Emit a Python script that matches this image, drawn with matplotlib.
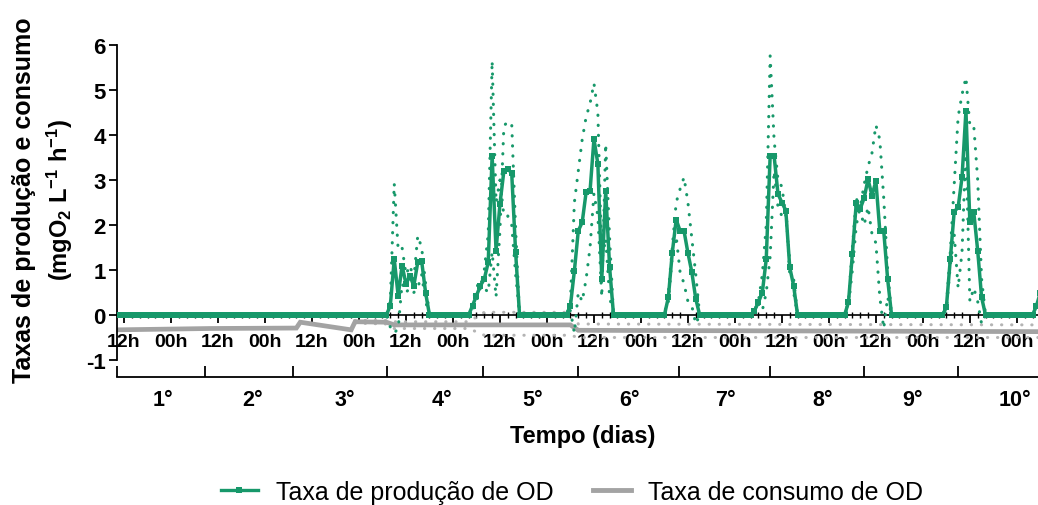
import matplotlib
matplotlib.use('Agg')
import matplotlib.pyplot as plt
from matplotlib.lines import Line2D
import numpy as np

plt.rcParams['font.family'] = ['Liberation Sans', 'DejaVu Sans']
plt.rcParams['axes.unicode_minus'] = False
plt.rcParams['mathtext.fontset'] = 'custom'
plt.rcParams['mathtext.rm'] = 'Liberation Sans'
plt.rcParams['mathtext.bf'] = 'Liberation Sans:bold'
plt.rcParams['mathtext.default'] = 'bf'

# ---------------- data (time in hours from day 1, 00h) ----------------
hour_first, hour_last = 10, 246

# production episodes: first hour of each episode and hourly values
prod_start = [79, 100, 125, 150, 172, 196, 221, 244]
prod_mean = [
    [0, 0.21, 1.24, 0.43, 1.10, 0.69, 0.87, 0.65, 1.17, 1.20, 0.50, 0],
    [0, 0.21, 0.43, 0.65, 0.80, 1.17, 3.54, 1.43, 2.47, 3.20, 3.25, 3.15, 1.39, 0],
    [0, 0.21, 0.98, 1.87, 2.06, 2.73, 2.75, 3.91, 3.36, 0.80, 2.76, 1.06, 0],
    [0, 0.39, 1.38, 2.12, 1.87, 1.87, 1.38, 0.95, 0.36, 0],
    [0, 0.10, 0.28, 0.50, 1.24, 3.54, 3.54, 2.69, 2.50, 2.32, 1.06, 0.65, 0],
    [0, 0.28, 1.36, 2.50, 2.36, 2.60, 3.02, 2.65, 2.98, 1.87, 1.87, 0.80, 0],
    [0, 0.17, 1.24, 2.30, 2.39, 3.06, 4.54, 2.06, 2.28, 1.43, 0.39, 0],
    [0, 0.20, 0.50],
]
prod_rep_a = [
    [0, 0.30, 2.92, 1.45, 1.50, 0.90, 1.10, 0.80, 1.76, 1.50, 0.70, 0],
    [0, 0.10, 0.30, 0.60, 1.00, 1.80, 5.65, 2.50, 3.00, 2.20, 2.20, 2.00, 0.90, 0],
    [0, 0.30, 2.50, 3.20, 3.90, 4.40, 4.70, 5.15, 4.50, 1.20, 1.70, 0.40, 0],
    [0, 0.50, 1.50, 2.50, 2.80, 3.06, 2.50, 1.70, 0.90, 0],
    [0, 0.10, 0.30, 0.90, 2.00, 5.76, 3.90, 3.00, 2.85, 2.20, 1.20, 0.50, 0],
    [0, 0.20, 1.00, 2.00, 2.40, 2.90, 3.30, 3.60, 4.22, 3.90, 2.60, 1.00, 0],
    [0, 0.20, 1.40, 2.90, 4.40, 4.90, 5.28, 4.20, 4.20, 3.00, 0.80, 0],
    [0, 0, 0],
]
prod_rep_b = [
    [0, -0.27, -0.40, -0.30, 0.70, 0.50, 0.60, 0.50, 0.60, 0.90, 0.30, 0],
    [0, 0.30, 0.60, 0.80, 0.60, 0.50, 1.40, 0.40, 1.90, 4.20, 4.30, 4.25, 1.90, 0],
    [0, 0.10, -0.40, 0.50, 0.30, 0.80, 1.50, 2.70, 2.20, 0.40, 3.80, 1.70, 0],
    [0, 0.30, 1.30, 1.75, 0.95, 0.70, 0.30, 0.20, -0.20, 0],
    [0, 0.10, 0.25, 0.10, 0.50, 1.30, 3.20, 2.40, 2.20, 2.45, 0.90, 0.80, 0],
    [0, 0.30, 1.50, 2.60, 2.30, 2.00, 2.40, 1.80, 1.60, 0.40, -0.30, 0.40, 0],
    [0, 0.10, 1.10, 1.80, 0.60, 1.40, 3.80, 0.30, 0.60, 0.30, -0.20, 0],
    [0, 0, 0],
]

cons_hours = [10, 34, 56, 57, 70, 71, 79, 81, 126, 128, 246]
cons_mean = [-0.33, -0.30, -0.29, -0.16, -0.33, -0.15, -0.16, -0.22, -0.22, -0.34, -0.37]
cons_rep_hours = [71, 79, 81, 100, 104, 126, 128, 246]
cons_rep_a = [-0.12, -0.12, -0.15, -0.15, 0.06, 0.06, -0.20, -0.22]
cons_rep_b = [-0.18, -0.20, -0.30, -0.30, -0.45, -0.45, -0.50, -0.50]

hour_ticks = list(range(12, 241, 12))
hour_labels = ['12h' if h % 24 == 12 else '00h' for h in hour_ticks]
day_bounds = [10.3, 32.7, 55.2, 79.2, 103.7, 127.8, 153.8, 176.9, 201.0, 225.0]
day_label_pos = [22.0, 44.9, 68.4, 93.2, 116.4, 141.2, 165.7, 190.5, 213.4, 239.5]
day_labels = ['1°', '2°', '3°', '4°', '5°', '6°', '7°', '8°', '9°', '10°']

# ---------------- build hourly series ----------------
hours = np.arange(hour_first, hour_last + 1)
def build(episodes):
    s = np.zeros(len(hours))
    for st, vals in zip(prod_start, episodes):
        i = st - hour_first
        s[i:i + len(vals)] = vals
    return s
mean_s = build(prod_mean)
a_s = build(prod_rep_a)
b_s = build(prod_rep_b)

GREEN = '#17986a'
GRAY = '#a3a3a3'
GRAYDOT = '#b4b4b4'

W, H = 1038, 506
fig = plt.figure(figsize=(W / 100, H / 100), dpi=100)
ax = fig.add_axes([117 / W, (H - 361) / H, (W - 117) / W, 315 / H])
ax.set_xlim(10.2, 245.4)
ax.set_ylim(-1, 6)

dot = (0, (0.1, 3.2))
ax.plot(cons_rep_hours, cons_rep_a, color=GRAYDOT, lw=2.2, ls=dot,
        dash_capstyle='round', zorder=2.2)
ax.plot(cons_rep_hours, cons_rep_b, color=GRAYDOT, lw=2.2, ls=dot,
        dash_capstyle='round', zorder=2.2)
ax.plot(cons_hours, cons_mean, color=GRAY, lw=3.4, zorder=2.3,
        solid_joinstyle='miter')
ax.plot(hours, a_s, color=GREEN, lw=2.2, ls=dot, dash_capstyle='round', zorder=2.6)
ax.plot(hours, b_s, color=GREEN, lw=2.2, ls=dot, dash_capstyle='round', zorder=2.6)
ax.plot(hours, mean_s, color=GREEN, lw=2.5, marker='s', markersize=5,
        markeredgewidth=0, zorder=3)

for s in ['top', 'right']:
    ax.spines[s].set_visible(False)
ax.spines['bottom'].set_position(('data', 0))
ax.spines['bottom'].set_linewidth(1.2)
ax.spines['left'].set_linewidth(1.3)
ax.spines['left'].set_bounds(-1, 6)

ax.set_xticks(hour_ticks)
ax.set_xticklabels(hour_labels, fontsize=14, fontweight='bold')
ax.set_xticks(np.arange(12, 246, 2), minor=True)
ax.tick_params(axis='x', which='major', direction='out', length=6, width=1.3, pad=7)
ax.tick_params(axis='x', which='minor', direction='inout', length=4, width=1.0)
ax.set_yticks(range(-1, 7))
ax.set_yticklabels([str(v) for v in range(-1, 7)], fontsize=16, fontweight='bold')
ax.tick_params(axis='y', direction='out', length=6, width=1.3, pad=2)

# day axis
ax2 = fig.add_axes([117 / W, (H - 378) / H, (W - 117) / W, 0.001])
ax2.set_xlim(ax.get_xlim())
for s in ['top', 'right', 'left']:
    ax2.spines[s].set_visible(False)
ax2.spines['bottom'].set_linewidth(1.3)
ax2.set_yticks([])
ax2.set_xticks(day_bounds)
ax2.set_xticklabels([''] * len(day_bounds))
ax2.set_xticks(day_label_pos, minor=True)
ax2.set_xticklabels(day_labels, minor=True, fontsize=15.5, fontweight='bold')
ax2.tick_params(axis='x', which='major', direction='in', length=8, width=1.3)
ax2.tick_params(axis='x', which='minor', length=0, pad=9)

fig.text(583 / W, 1 - 437 / H, 'Tempo (dias)', ha='center', va='center',
         fontsize=17, fontweight='bold')
fig.text(24 / W, 1 - 200 / H, 'Taxas de produção e consumo', rotation=90,
         ha='center', va='center', fontsize=18, fontweight='bold')
fig.text(60 / W, 1 - 200 / H, r'(mgO$_2$ L$^{-1}$ h$^{-1}$)', rotation=90,
         ha='center', va='center', fontsize=17, fontweight='bold')

handles = [Line2D([], [], color=GREEN, lw=2.4, marker='s', markersize=4.5,
                  markeredgewidth=0),
           Line2D([], [], color=GRAY, lw=3.5)]
fig.legend(handles, ['Taxa de produção de OD', 'Taxa de consumo de OD'],
           loc='center', bbox_to_anchor=(572 / W, 1 - 493 / H), ncol=2,
           frameon=False, fontsize=18, handlelength=1.5, columnspacing=1.6,
           handletextpad=0.7)

fig.savefig('out.png', dpi=100)
